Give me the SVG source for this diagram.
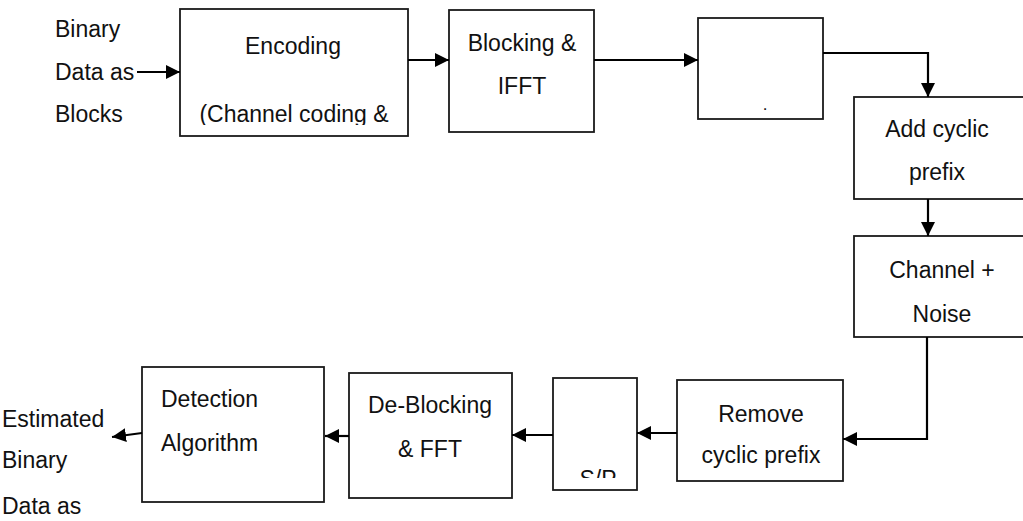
<svg xmlns="http://www.w3.org/2000/svg" width="1023" height="521" viewBox="0 0 1023 521">
<style>
.box{fill:#fff;stroke:#1a1a1a;stroke-width:1.8}
.t{font-family:"Liberation Sans",Arial,sans-serif;font-size:23px;fill:#111}
.m{text-anchor:middle}
.c{fill:none;stroke:#000;stroke-width:2.2}
</style>
<defs>
<marker id="ah" viewBox="0 0 14 14" refX="14" refY="7" markerWidth="14" markerHeight="14" markerUnits="userSpaceOnUse" orient="auto">
<path d="M0,0 L14,7 L0,14 z" fill="#000"/>
</marker>
<clipPath id="clipEnc"><rect x="180" y="9" width="228" height="116"/></clipPath>
<clipPath id="clipSP"><rect x="553" y="378" width="84" height="100"/></clipPath>
</defs>
<rect width="1023" height="521" fill="#fff"/>
<g id="input-label">
<text class="t" x="55" y="37">Binary</text>
<text class="t" x="55" y="80">Data as</text>
<text class="t" x="55" y="122">Blocks</text>
</g>
<g id="encoding">
<rect class="box" x="180" y="9" width="228" height="127"/>
<text class="t m" x="293" y="54">Encoding</text>
<text class="t m" x="294" y="122" clip-path="url(#clipEnc)">(Channel coding &amp;</text>
</g>
<g id="blocking-ifft">
<rect class="box" x="449" y="10" width="145" height="122"/>
<text class="t m" x="522" y="51">Blocking &amp;</text>
<text class="t m" x="522" y="94">IFFT</text>
</g>
<g id="empty-box">
<rect class="box" x="698" y="18" width="125" height="101"/>
<text class="t m" x="765" y="110" style="font-size:17px">.</text>
</g>
<g id="add-cyclic-prefix">
<rect class="box" x="854" y="97" width="170" height="102"/>
<text class="t m" x="937" y="137">Add cyclic</text>
<text class="t m" x="937" y="180">prefix</text>
</g>
<g id="channel-noise">
<rect class="box" x="854" y="236" width="170" height="101"/>
<text class="t m" x="942" y="278">Channel +</text>
<text class="t m" x="942" y="322">Noise</text>
</g>
<g id="remove-cyclic-prefix">
<rect class="box" x="677" y="380" width="166" height="101"/>
<text class="t m" x="761" y="422">Remove</text>
<text class="t m" x="761" y="463">cyclic prefix</text>
</g>
<g id="sp">
<rect class="box" x="553" y="378" width="84" height="112"/>
<text class="t m" x="598" y="487" clip-path="url(#clipSP)">S/P</text>
</g>
<g id="deblocking-fft">
<rect class="box" x="349" y="373" width="163" height="125"/>
<text class="t m" x="430" y="413">De-Blocking</text>
<text class="t m" x="430" y="457">&amp; FFT</text>
</g>
<g id="detection">
<rect class="box" x="142" y="367" width="182" height="135"/>
<text class="t" x="161" y="407">Detection</text>
<text class="t" x="161" y="451">Algorithm</text>
</g>
<g id="output-label">
<text class="t" x="2" y="427">Estimated</text>
<text class="t" x="2" y="468">Binary</text>
<text class="t" x="2" y="514">Data as</text>
</g>
<g id="connectors">
<path class="c" d="M137,72 L180,72" marker-end="url(#ah)"/>
<path class="c" d="M408,60 L449,60" marker-end="url(#ah)"/>
<path class="c" d="M594,60 L698,60" marker-end="url(#ah)"/>
<path class="c" d="M823,53 L928,53 L928,97" marker-end="url(#ah)"/>
<path class="c" d="M928,199 L928,236" marker-end="url(#ah)"/>
<path class="c" d="M927,337 L927,439 L843,439" marker-end="url(#ah)"/>
<path class="c" d="M677,433 L637,433" marker-end="url(#ah)"/>
<path class="c" d="M553,435 L512,435" marker-end="url(#ah)"/>
<path class="c" d="M349,436 L325,436" marker-end="url(#ah)"/>
<path class="c" d="M142,433 L112,437" marker-end="url(#ah)"/>
</g>
</svg>
